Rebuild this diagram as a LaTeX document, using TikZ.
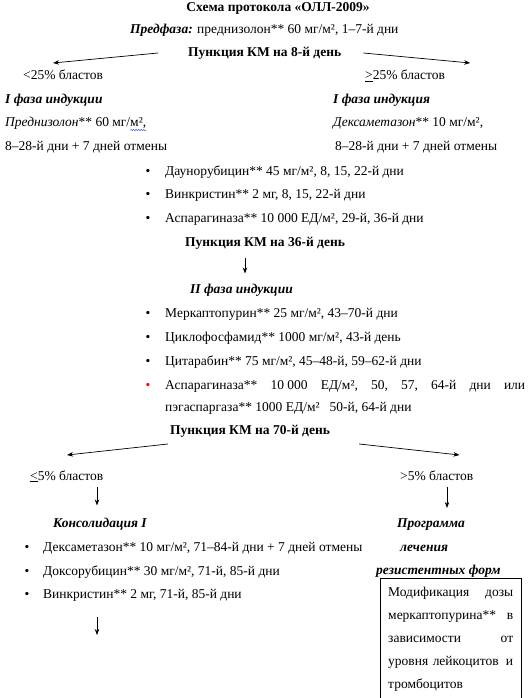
\documentclass[tikz,border=0pt]{standalone}
\usepackage{fontspec}
\setmainfont{Liberation Serif}
\usetikzlibrary{arrows.meta,decorations.pathmorphing,calc}
\definecolor{rot}{HTML}{FF0000}
\definecolor{blau}{HTML}{3A5FCD}
\tikzset{
  txt/.style={anchor=base west,inner sep=0pt},
  mitte/.style={anchor=base,inner sep=0pt},
  pkt/.style={anchor=base,inner sep=0pt},
  pfeil/.style={-{Stealth[length=6pt,width=4.5pt]},line width=0.7pt},
  welle/.style={blau,decorate,decoration={snake,amplitude=0.7pt,segment length=2.5pt},line width=0.5pt},
  kasten/.style={anchor=north west,inner xsep=8pt,inner ysep=9pt,text width=125pt,align=left,
    font=\fontsize{13.5pt}{23pt}\selectfont},
}

\begin{document}
\begin{tikzpicture}[x=1pt,y=1pt,font=\fontsize{13.5pt}{16pt}\selectfont]
  \useasboundingbox (0,0) rectangle (529,-698);
  \node[mitte] (titel) at (278,-12) {\textbf{Схема протокола «ОЛЛ-2009»}};
  \node[txt] (vor) at (130,-34) {\textbf{\textit{Предфаза:}} преднизолон** 60 мг/м², 1–7-й дни};
  \node[txt] (p8) at (188,-57) {\textbf{Пункция КМ на 8-й день}};
  \node[txt] (l25) at (23,-80) {<25\% бластов};
  \node[txt] (r25) at (365,-80) {\underline{>}25\% бластов};
  \draw[pfeil] ([xshift=-30pt,yshift=4pt]p8.base west) -- ([xshift=30pt,yshift=17pt]l25.base west);
  \draw[pfeil] ([xshift=22pt,yshift=4pt]p8.base east) -- ([xshift=25pt,yshift=17pt]r25.base east);
  \node[txt] (ind1l) at (5,-104) {\textbf{\textit{I фаза индукции}}};
  \node[txt] (predl) at (5,-127) {\textit{Преднизолон}** 60 мг/м²,};
  \draw[welle] ([xshift=-16pt,yshift=-3pt]predl.base east) -- ([yshift=-3pt]predl.base east);
  \node[txt] (predl2) at (5,-150) {8–28-й дни + 7 дней отмены};
  \node[txt] (ind1r) at (333,-104) {\textbf{\textit{I фаза индукция}}};
  \node[txt] (dexr) at (333,-127) {\textit{Дексаметазон}** 10 мг/м²,};
  \node[txt] (dexr2) at (335,-150) {8–28-й дни + 7 дней отмены};
  \node[pkt] (dnp) at (148,-175) {•};
  \node[txt] (dn) at (165,-175) {Даунорубицин** 45 мг/м², 8, 15, 22-й дни};
  \node[pkt] (vkp) at (148,-198) {•};
  \node[txt] (vk) at (165,-198) {Винкристин** 2 мг, 8, 15, 22-й дни};
  \node[pkt] (asp) at (148,-222) {•};
  \node[txt] (as) at (165,-222) {Аспарагиназа** 10~000 ЕД/м², 29-й, 36-й дни};
  \node[txt] (p36) at (185,-246) {\textbf{Пункция КМ на 36-й день}};
  \node[txt] (ind2) at (190,-293) {\textbf{\textit{II фаза индукции}}};
  \coordinate (a36) at ([xshift=60pt,yshift=-12pt]p36.base west);
  \draw[pfeil,shorten >=10pt] (a36) -- (a36 |- ind2.north);
  \node[pkt] (mpp) at (148,-317) {•};
  \node[txt] (mp) at (165,-317) {Меркаптопурин** 25 мг/м², 43–70-й дни};
  \node[pkt] (cfp) at (148,-341) {•};
  \node[txt] (cf) at (165,-341) {Циклофосфамид** 1000 мг/м², 43-й день};
  \node[pkt] (cyp) at (148,-365) {•};
  \node[txt] (cy) at (165,-365) {Цитарабин** 75 мг/м², 45–48-й, 59–62-й дни};
  \node[pkt,rot] (as2p) at (148,-389) {•};
  \node[txt] (as2) at (165,-389) {\hbox to 360pt{Аспарагиназа**\hfill 10~000\hfill ЕД/м²,\hfill 50,\hfill 57,\hfill 64-й\hfill дни\hfill или}};
  \node[txt] (peg) at (165,-411) {пэгаспаргаза** 1000 ЕД/м²\hspace{10pt}50-й, 64-й дни};
  \node[txt] (p70) at (170,-434) {\textbf{Пункция КМ на 70-й день}};
  \node[txt] (l5) at (30,-480) {\underline{<}5\% бластов};
  \node[txt] (r5) at (400,-480) {>5\% бластов};
  \draw[pfeil] ([xshift=-2pt,yshift=-10pt]p70.base west) -- ([xshift=37pt,yshift=25pt]l5.base west);
  \draw[pfeil] ([xshift=29pt,yshift=-10pt]p70.base east) -- ([xshift=-14pt,yshift=25pt]r5.base east);
  \node[txt] (kons) at (53,-527) {\textbf{\textit{Консолидация I}}};
  \node[txt] (prog) at (397,-527) {\textbf{\textit{Программа}}};
  \node[txt] (lech) at (400,-551) {\textbf{\textit{лечения}}};
  \node[txt] (rez) at (376,-574) {\textbf{\textit{резистентных форм}}};
  \coordinate (a5l) at ([xshift=67pt,yshift=-7pt]l5.base west);
  \draw[pfeil,shorten >=12pt] (a5l) -- (a5l |- kons.north);
  \coordinate (a5r) at ([xshift=47pt,yshift=-7pt]r5.base west);
  \draw[pfeil,shorten >=10pt] (a5r) -- (a5r |- prog.north);
  \node[pkt] (dxp) at (27,-551) {•};
  \node[txt] (dx) at (43,-551) {Дексаметазон** 10 мг/м², 71–84-й дни + 7 дней отмены};
  \node[pkt] (dop) at (27,-575) {•};
  \node[txt] (do) at (43,-575) {Доксорубицин** 30 мг/м², 71-й, 85-й дни};
  \node[pkt] (vk2p) at (27,-598) {•};
  \node[txt] (vk2) at (43,-598) {Винкристин** 2 мг, 71-й, 85-й дни};
  \draw[pfeil] ([xshift=54pt,yshift=-19pt]vk2.base west) -- ++(0,-18);
  \node[kasten] (modbox) at (380,-578) {\makebox[125pt]{Модификация\hfill дозы}\\
    \makebox[125pt]{меркаптопурина**\hfill в}\\
    \makebox[125pt]{зависимости\hfill от}\\
    \makebox[125pt]{уровня лейкоцитов\hfill и}\\
    тромбоцитов};
  \draw ([yshift=-125pt]modbox.north west) -- (modbox.north west) -- (modbox.north east) -- ([yshift=-125pt]modbox.north east);
\end{tikzpicture}
\end{document}
